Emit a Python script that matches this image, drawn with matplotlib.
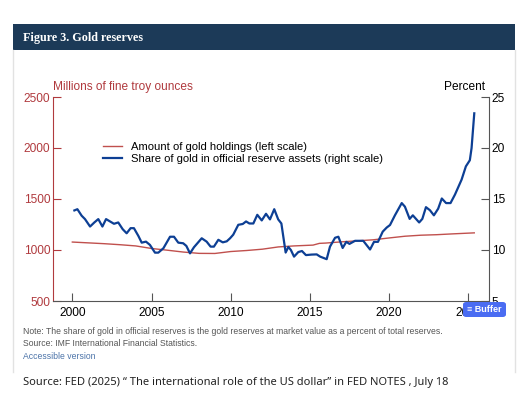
"""Figure 3 of the FED note: gold holdings vs. share of gold in official reserves."""
import matplotlib
matplotlib.use("Agg")
import matplotlib.pyplot as plt
from matplotlib.patches import Rectangle, FancyBboxPatch
from matplotlib.lines import Line2D

NAVY = "#1c3a58"
RED = "#b03a3e"
RED_LINE = "#c0504d"
BLUE = "#0d3f94"
GREY = "#555555"

# amount of gold holdings, millions of fine troy ounces (left scale)
hold_years = [2000.0, 2001, 2002, 2003, 2004, 2005, 2006, 2007, 2008, 2009,
              2010, 2011, 2012, 2013, 2014, 2015.2, 2015.6, 2016, 2017, 2018,
              2019, 2020, 2021, 2022, 2023, 2024, 2025.38]
hold_moz = [1078, 1070, 1062, 1052, 1040, 1015, 998, 980, 967, 966,
            985, 995, 1008, 1030, 1040, 1048, 1065, 1068, 1080, 1090,
            1100, 1118, 1135, 1145, 1150, 1158, 1168]

# share of gold in official reserve assets, percent (right scale)
share_years = [2000.13, 2000.32, 2000.59, 2000.80, 2001.12, 2001.39, 2001.64, 2001.90,
               2002.13, 2002.38, 2002.63, 2002.90, 2003.18, 2003.43, 2003.68, 2003.89,
               2004.17, 2004.38, 2004.65, 2004.90, 2005.22, 2005.43, 2005.75, 2006.17,
               2006.42, 2006.69, 2007.00, 2007.20, 2007.43, 2007.68, 2008.17, 2008.48,
               2008.73, 2008.94, 2009.22, 2009.50, 2009.75, 2009.96, 2010.16, 2010.48,
               2010.76, 2010.97, 2011.18, 2011.43, 2011.68, 2011.96, 2012.23, 2012.48,
               2012.75, 2013.00, 2013.20, 2013.47, 2013.64, 2013.80, 2014.00, 2014.27,
               2014.50, 2014.75, 2015.10, 2015.43, 2015.65, 2016.06, 2016.27, 2016.59,
               2016.80, 2017.07, 2017.30, 2017.50, 2017.85, 2018.37, 2018.80, 2019.05,
               2019.30, 2019.60, 2019.85, 2020.06, 2020.37, 2020.80, 2021.00, 2021.30,
               2021.50, 2021.90, 2022.10, 2022.33, 2022.58, 2022.83, 2023.10, 2023.33,
               2023.60, 2023.88, 2024.16, 2024.58, 2024.85, 2025.10, 2025.21, 2025.38]
share_pct = [13.88, 14.00, 13.36, 13.03, 12.30, 12.70, 13.03, 12.30,
             13.03, 12.80, 12.57, 12.70, 12.04, 11.64, 12.14, 12.14,
             11.38, 10.72, 10.82, 10.50, 9.74, 9.74, 10.17, 11.30,
             11.30, 10.72, 10.66, 10.40, 9.67, 10.27, 11.15, 10.82,
             10.33, 10.33, 11.00, 10.75, 10.85, 11.15, 11.50, 12.47,
             12.55, 12.80, 12.60, 12.60, 13.45, 12.90, 13.55, 13.00,
             14.00, 13.00, 12.60, 9.75, 10.30, 10.00, 9.35, 9.80,
             9.90, 9.50, 9.55, 9.57, 9.35, 9.10, 10.33, 11.20,
             11.30, 10.20, 10.80, 10.60, 10.90, 10.90, 10.05, 10.80,
             10.80, 11.80, 12.20, 12.45, 13.40, 14.60, 14.25, 13.05,
             13.40, 12.70, 13.05, 14.20, 13.90, 13.40, 14.05, 15.05,
             14.60, 14.60, 15.43, 16.90, 18.20, 18.80, 20.00, 23.40]

x_ticks = [2000, 2005, 2010, 2015, 2020, 2025]
left_ticks = [500, 1000, 1500, 2000, 2500]
right_ticks = [5, 10, 15, 20, 25]

W, H = 529, 413
plt.rcParams["font.family"] = ["Liberation Sans", "DejaVu Sans"]

fig = plt.figure(figsize=(W / 100, H / 100), dpi=100)


def fx(px):
    return px / W


def fy(py):
    return 1 - py / H


# header bar and card outline
fig.patches.append(Rectangle((fx(13), fy(50)), fx(502), 26 / H, transform=fig.transFigure,
                             facecolor=NAVY, edgecolor="none"))
for xp in (13, 515):
    fig.lines.append(Line2D([fx(xp), fx(xp)], [fy(50), fy(372)], transform=fig.transFigure,
                            color="#e2e2e2", lw=1))
fig.text(fx(23), fy(37.5), "Figure 3. Gold reserves", color="white", fontsize=8.7,
         weight="bold", family=["Liberation Serif", "DejaVu Serif"], va="center", ha="left")

ax = fig.add_axes([fx(53), fy(301), fx(436), 204 / H])
ax2 = ax.twinx()

ln1, = ax.plot(hold_years, hold_moz, color=RED_LINE, lw=1.0)
ln2, = ax2.plot(share_years, share_pct, color=BLUE, lw=1.6)

ax.set_xlim(1998.78, 2026.31)
ax.set_ylim(500, 2500)
ax2.set_ylim(5, 25)
ax.set_xticks(x_ticks)
ax.set_yticks(left_ticks)
ax2.set_yticks(right_ticks)

for a in (ax, ax2):
    a.spines["top"].set_visible(False)
    a.patch.set_visible(False)
ax.spines["left"].set_color(RED)
ax.spines["right"].set_visible(False)
ax.spines["bottom"].set_color(GREY)
ax2.spines["left"].set_visible(False)
ax2.spines["bottom"].set_visible(False)
ax2.spines["right"].set_color(GREY)

ax.tick_params(axis="y", direction="in", length=6, color=RED, labelcolor=RED,
               labelsize=8.6, pad=2)
ax.tick_params(axis="x", direction="in", length=6, color=GREY, labelsize=8.6, pad=4)
ax2.tick_params(axis="y", direction="in", length=6, color=GREY, labelsize=8.6, pad=2)

ax.text(0, 1.02, "Millions of fine troy ounces", transform=ax.transAxes, color=RED,
        fontsize=8.6, ha="left", va="bottom")
ax2.text(0.99, 1.02, "Percent", transform=ax2.transAxes, color="black",
         fontsize=8.6, ha="right", va="bottom")

ax2.legend([ln1, ln2],
           ["Amount of gold holdings (left scale)",
            "Share of gold in official reserve assets (right scale)"],
           loc="upper left", bbox_to_anchor=(0.114, 0.78), frameon=False,
           fontsize=8.1, handlelength=1.7, handletextpad=0.8, labelspacing=0.15,
           borderpad=0, borderaxespad=0)

# browser overlay badge seen on the screenshot
fig.patches.append(FancyBboxPatch((fx(463), fy(317)), fx(43), 15 / H,
                                  boxstyle="round,pad=0,rounding_size=0.006",
                                  transform=fig.transFigure, facecolor="#4a6cf2",
                                  edgecolor="none", zorder=5))
fig.text(fx(484.5), fy(309.5), "\u2261 Buffer", color="white", fontsize=6.5,
         ha="center", va="center", zorder=6, weight="bold")

fig.text(fx(23), fy(332), "Note: The share of gold in official reserves is the gold reserves "
         "at market value as a percent of total reserves.", color=GREY, fontsize=6.2,
         ha="left", va="center")
fig.text(fx(23), fy(344), "Source: IMF International Financial Statistics.", color=GREY,
         fontsize=6.2, ha="left", va="center")
fig.text(fx(23), fy(356.5), "Accessible version", color="#4a72a8", fontsize=6.2,
         ha="left", va="center")
fig.text(fx(23), fy(383), "Source: FED (2025) \u201c The international role of the US dollar\u201d "
         "in FED NOTES , July 18", color="#222222", fontsize=8,
         family=["Noto Sans", "DejaVu Sans"], ha="left", va="center")

fig.savefig("out.png", dpi=100)
